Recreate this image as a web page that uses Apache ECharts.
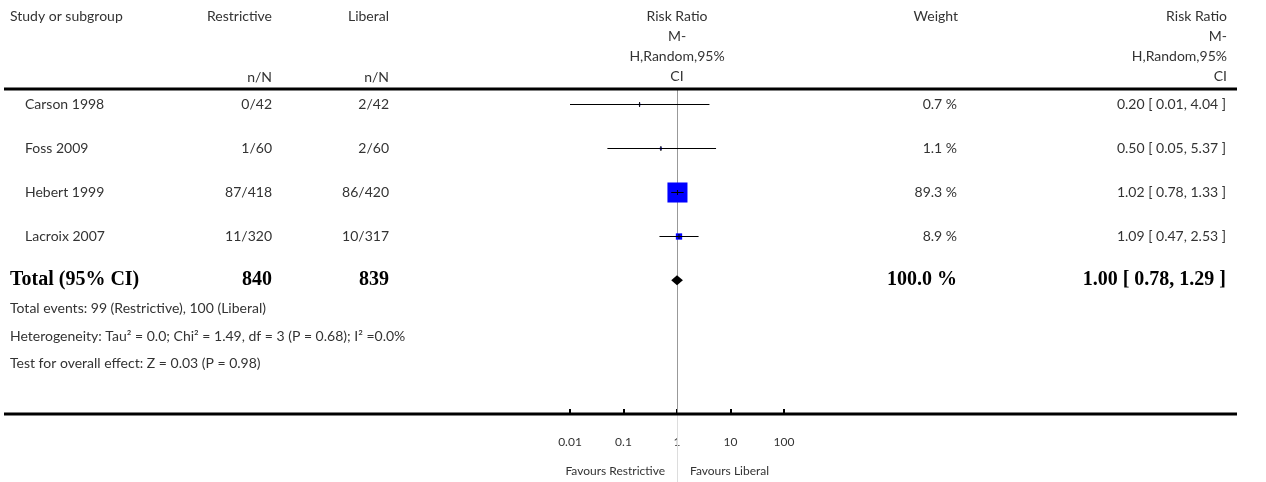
<!DOCTYPE html>
<html><head><meta charset="utf-8">
<script src="https://cdn.jsdelivr.net/npm/echarts@6/dist/echarts.min.js"></script>
<style>html,body{margin:0;padding:0;background:#fff}#c{width:1266px;height:482px}</style>
</head><body><div id="c"></div>
<script>
// ---- data ----
const studies = ['Carson 1998', 'Foss 2009', 'Hebert 1999', 'Lacroix 2007'];
const restrictiveN = ['0/42', '1/60', '87/418', '11/320'];
const liberalN = ['2/42', '2/60', '86/420', '10/317'];
const riskRatio = [0.20, 0.50, 1.02, 1.09];
const ciLow = [0.01, 0.05, 0.78, 0.47];
const ciHigh = [4.04, 5.37, 1.33, 2.53];
const weights = [0.7, 1.1, 89.3, 8.9];
const totalLabels = ['Total (95% CI)', '840', '839', '100.0 %', '1.00 [ 0.78, 1.29 ]'];
const totalRR = [1.00, 0.78, 1.29];
const xTicks = [0.01, 0.1, 1, 10, 100];
const xTickLabels = ['0.01', '0.1', '1', '10', '100'];
const footerLines = [
  'Total events: 99 (Restrictive), 100 (Liberal)',
  'Heterogeneity: Tau\u00B2 = 0.0; Chi\u00B2 = 1.49, df = 3 (P = 0.68); I\u00B2 =0.0%',
  'Test for overall effect: Z = 0.03 (P = 0.98)'
];

const FONT = 'Lato, "Open Sans", sans-serif';
const SERIF = '"Liberation Serif", "DejaVu Serif", serif';
const FS = 14;
const COL = {name: 25, restr: 272, lib: 389, weight: 957, ci: 1226};

const chart = echarts.init(document.getElementById('c'));

const studyData = studies.map((s, i) => [i, riskRatio[i], ciLow[i], ciHigh[i], weights[i]]);

function fmt2(v) { return v.toFixed(2); }

const option = {
  animation: false,
  grid: {left: 570, width: 214, top: 98, height: 316},
  xAxis: {
    type: 'log', logBase: 10, min: 0.01, max: 100,
    axisLine: {show: false, onZero: false},
    axisTick: {show: true, inside: true, length: 5, lineStyle: {color: '#000', width: 2}},
    splitLine: {show: false},
    axisLabel: {
      margin: 22, color: '#333', fontFamily: FONT, fontSize: 12,
      formatter: v => { const k = xTicks.findIndex(t => Math.abs(t - v) / t < 1e-6); return k >= 0 ? xTickLabels[k] : ''; }
    }
  },
  yAxis: {type: 'value', inverse: true, min: -0.14, max: 7.04, show: false},
  series: [
    {
      type: 'custom', clip: false, z: 3,
      data: studyData,
      renderItem(params, api) {
        const i = api.value(0);
        const y = Math.round(api.coord([1, i])[1]) + 0.5;
        const xC = api.coord([api.value(1), i])[0];
        const xL = api.coord([api.value(2), i])[0];
        const xH = api.coord([api.value(3), i])[0];
        const s = 2.12 * Math.sqrt(api.value(4));
        const kids = [];
        kids.push({type: 'rect', shape: {x: xC - s / 2, y: y - s / 2, width: s, height: s}, style: {fill: '#0000ff'}});
        kids.push({type: 'line', shape: {x1: xL, y1: y, x2: xH, y2: y}, style: {stroke: '#000', lineWidth: 1}});
        kids.push({type: 'line', shape: {x1: xC, y1: y - 2.5, x2: xC, y2: y + 2.5}, style: {stroke: '#000', lineWidth: 1}});
        return {type: 'group', children: kids};
      }
    },
    {
      type: 'custom', clip: false, z: 3,
      data: [[4, totalRR[0], totalRR[1], totalRR[2]]],
      renderItem(params, api) {
        const i = api.value(0);
        const y = api.coord([1, i])[1];
        const xC = api.coord([api.value(1), i])[0];
        const xL = api.coord([api.value(2), i])[0];
        const xH = api.coord([api.value(3), i])[0];
        return {type: 'polygon', shape: {points: [[xL, y], [xC, y - 5], [xH, y], [xC, y + 5]]}, style: {fill: '#000'}};
      }
    },
    {
      type: 'custom', clip: false, z: 4, silent: true,
      data: studies.map((s, i) => [i]),
      renderItem(params, api) {
        const i = params.dataIndex;
        const y = api.coord([1, i])[1];
        const st = (t, x, align) => ({type: 'text', x: x, y: y, style: {text: t, textAlign: align, textVerticalAlign: 'middle', font: FS + 'px ' + FONT, fill: '#333'}});
        return {type: 'group', children: [
          st(studies[i], COL.name, 'left'),
          st(restrictiveN[i], COL.restr, 'right'),
          st(liberalN[i], COL.lib, 'right'),
          st(weights[i].toFixed(1) + ' %', COL.weight, 'right'),
          st(fmt2(riskRatio[i]) + ' [ ' + fmt2(ciLow[i]) + ', ' + fmt2(ciHigh[i]) + ' ]', COL.ci, 'right')
        ]};
      }
    },
    {
      type: 'custom', clip: false, z: 4, silent: true,
      data: [[4]],
      renderItem(params, api) {
        const y = api.coord([1, 4])[1];
        const st = (t, x, align) => ({type: 'text', x: x, y: y, style: {text: t, textAlign: align, textVerticalAlign: 'middle', font: 'bold 20px ' + SERIF, fill: '#000'}});
        return {type: 'group', children: [
          st(totalLabels[0], 10, 'left'),
          st(totalLabels[1], COL.restr, 'right'),
          st(totalLabels[2], COL.lib, 'right'),
          st(totalLabels[3], COL.weight, 'right'),
          st(totalLabels[4], COL.ci, 'right')
        ]};
      }
    }
  ]
};
chart.setOption(option);

// decorative elements
const cx = chart.convertToPixel({xAxisIndex: 0}, 1);
const cxs = Math.round(cx) + 0.5;
const txt = (t, x, y, align, extra) => Object.assign({type: 'text', x: x, y: y, style: Object.assign({text: t, textAlign: align || 'left', textVerticalAlign: 'middle', font: FS + 'px ' + FONT, fill: '#333'}, extra || {})});
const graphics = [
  {type: 'line', shape: {x1: cxs, y1: 90, x2: cxs, y2: 414}, style: {stroke: '#999', lineWidth: 1}, z: 1},
  {type: 'line', shape: {x1: cxs, y1: 414, x2: cxs, y2: 482}, style: {stroke: '#ddd', lineWidth: 1}, z: 1},
  {type: 'rect', shape: {x: 4, y: 87.5, width: 1233, height: 3}, style: {fill: '#000'}, z: 2},
  {type: 'rect', shape: {x: 4, y: 412.5, width: 1233, height: 3}, style: {fill: '#000'}, z: 2},
  txt('Study or subgroup', 10, 16),
  txt('Restrictive', COL.restr, 16, 'right'),
  txt('n/N', COL.restr, 77, 'right'),
  txt('Liberal', COL.lib, 16, 'right'),
  txt('n/N', COL.lib, 77, 'right'),
  txt('Risk Ratio', cx, 16, 'center'),
  txt('M-', cx, 36, 'center'),
  txt('H,Random,95%', cx, 56, 'center'),
  txt('CI', cx, 76, 'center'),
  txt('Weight', 958, 16, 'right'),
  txt('Risk Ratio', COL.ci + 1, 16, 'right'),
  txt('M-', COL.ci + 1, 36, 'right'),
  txt('H,Random,95%', COL.ci + 1, 56, 'right'),
  txt('CI', COL.ci + 1, 76, 'right'),
  txt(footerLines[0], 10, 308),
  txt(footerLines[1], 10, 336),
  txt(footerLines[2], 10, 363),
  txt('Favours Restrictive', cx - 12, 471, 'right', {font: '12px ' + FONT}),
  txt('Favours Liberal', cx + 13, 471, 'left', {font: '12px ' + FONT})
];
chart.setOption({graphic: graphics.map(g => Object.assign({z: 5}, g))});
</script></body></html>
